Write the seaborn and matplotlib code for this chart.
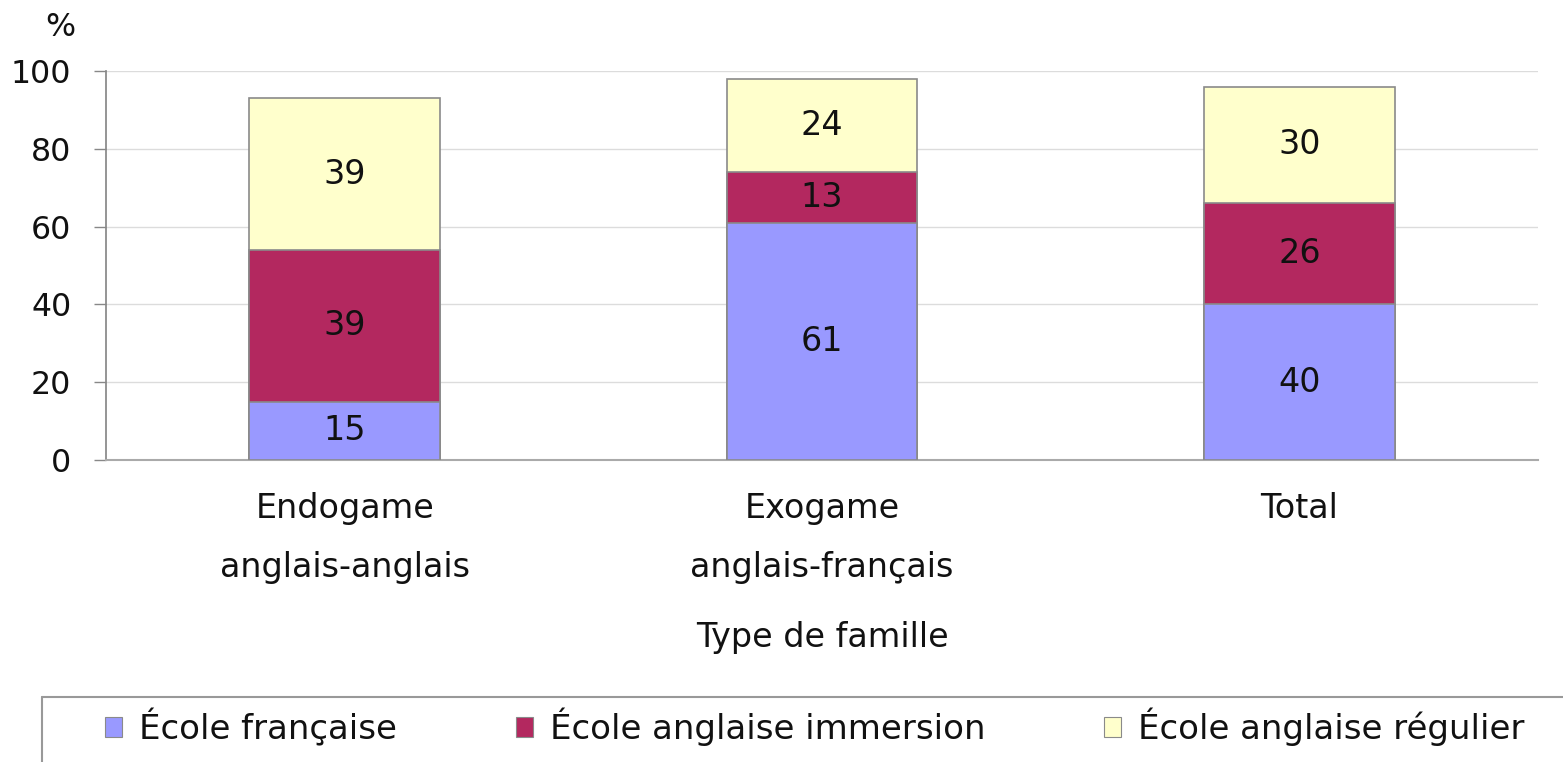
import matplotlib
matplotlib.use("Agg")
import matplotlib.pyplot as plt
import seaborn as sns
import numpy as np
import pandas as pd
from matplotlib.patches import Patch
from matplotlib.lines import Line2D

categories = ["Endogame\nanglais-anglais", "Exogame\nanglais-français", "Total"]
series_names = ["École française", "École anglaise immersion", "École anglaise régulier"]
ecole_francaise = [15, 61, 40]
ecole_immersion = [39, 13, 26]
ecole_reguliere = [39, 24, 30]
colors = ["#9999FF", "#B3285F", "#FFFFCC"]
yticks = [0, 20, 40, 60, 80, 100]

sns.set_theme(style="white")
plt.rcParams["font.family"] = ["DejaVu Sans"]

W, H = 1563, 762
fig = plt.figure(figsize=(W / 100, H / 100), dpi=100)
ax = fig.add_axes([106 / W, 1 - 460 / H, (1538 - 106) / W, (460 - 71) / H])

series = [ecole_francaise, ecole_immersion, ecole_reguliere]
cum = np.cumsum(np.array(series), axis=0)

# draw from the top series down so lower segments overlay
for i in reversed(range(3)):
    df = pd.DataFrame({"cat": categories, "val": cum[i]})
    sns.barplot(data=df, x="cat", y="val", color=colors[i], saturation=1,
                width=0.4, edgecolor="#8a8a8a", linewidth=1.2, ax=ax, zorder=3)

# data labels
for i in range(3):
    bottoms = cum[i] - np.array(series[i])
    for j, v in enumerate(series[i]):
        ax.text(j, bottoms[j] + v / 2, f"{v}", ha="center", va="center",
                fontsize=24, color="#111111", zorder=5)

ax.set_ylim(0, 100)
ax.set_xlim(-0.5, 2.5)
ax.set_yticks(yticks)
ax.set_yticklabels([str(t) for t in yticks], fontsize=22.8, color="#111111")
ax.tick_params(axis="y", which="major", left=True, length=9, width=1, color="#888888", pad=16)
ax.tick_params(axis="x", bottom=False, labelsize=24, labelcolor="#111111", pad=17)
for lbl in ax.get_xticklabels():
    lbl.set_linespacing(2.0)
ax.yaxis.grid(True, color="#dcdcdc", linewidth=1, zorder=0)
ax.set_axisbelow(True)
for s in ["top", "right"]:
    ax.spines[s].set_visible(False)
ax.spines["left"].set_color("#888888")
ax.spines["bottom"].set_color("#aaaaaa")
ax.spines["bottom"].set_linewidth(1.5)
ax.set_ylabel("")
ax.set_xlabel("Type de famille", fontsize=24, color="#111111", labelpad=27)

fig.text(60 / W, 1 - 27 / H, "%", fontsize=22.8, ha="center", va="center", color="#111111")

# legend box (top and left edges only visible)
fig.add_artist(Line2D([42 / W, 1.0], [1 - 697 / H, 1 - 697 / H], transform=fig.transFigure,
                      color="#999999", linewidth=1.5))
fig.add_artist(Line2D([42 / W, 42 / W], [1 - 697 / H, 0], transform=fig.transFigure,
                      color="#999999", linewidth=1.5))

handles = [Patch(facecolor=colors[i], edgecolor="#8a8a8a", linewidth=0.8) for i in range(3)]
fig.legend(handles, series_names, ncol=3, loc="center left",
           bbox_to_anchor=(74 / W, 1 - 727 / H), frameon=False, fontsize=24.5,
           handlelength=0.5, handleheight=0.5, handletextpad=0.5,
           columnspacing=3.5, labelcolor="#111111")

fig.savefig("out.png", dpi=100)
